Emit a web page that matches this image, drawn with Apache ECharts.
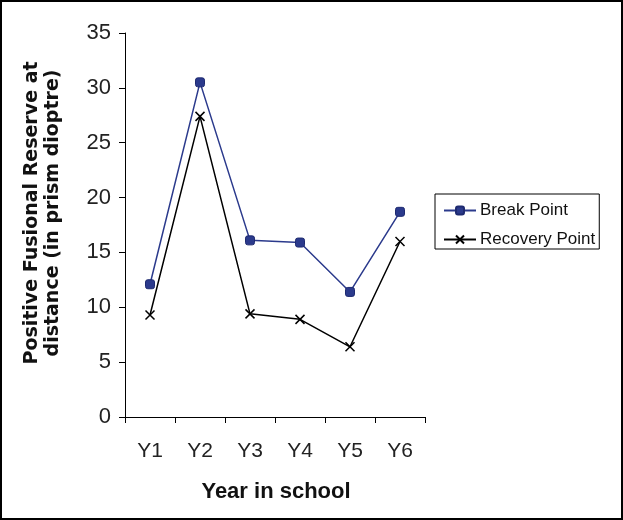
<!DOCTYPE html>
<html>
<head>
<meta charset="utf-8">
<script src="https://cdn.jsdelivr.net/npm/echarts@6/dist/echarts.min.js"></script>
<style>html,body{margin:0;padding:0;background:#fff}#c{width:623px;height:520px}</style>
</head>
<body>
<div id="c"></div>
<script>
const categories = ['Y1', 'Y2', 'Y3', 'Y4', 'Y5', 'Y6'];
const breakPoint = [12.1, 30.5, 16.1, 15.9, 11.4, 18.7];
const recoveryPoint = [9.3, 27.4, 9.4, 8.9, 6.4, 16.0];
const yTicks = [0, 5, 10, 15, 20, 25, 30, 35];
const seriesNames = ['Break Point', 'Recovery Point'];
const xTitle = 'Year in school';
const yTitle = 'Positive Fusional Reserve at\ndistance (in prism dioptre)';

const chart = echarts.init(document.getElementById('c'), null, {renderer: 'canvas'});
const labelFont = '"Liberation Sans", Arial, sans-serif';
chart.setOption({
  animation: false,
  backgroundColor: '#fff',
  grid: {left: 125, right: 198, top: 33, bottom: 103, containLabel: false},
  legend: {
    orient: 'vertical',
    left: 435, top: 194,
    padding: [8, 4, 1, 8],
    itemWidth: 32, itemHeight: 10, itemGap: 12,
    borderColor: '#000', borderWidth: 1,
    textStyle: {fontFamily: labelFont, fontSize: 17, color: '#111', padding: [0, 0, 0, -1]},
    data: seriesNames
  },
  xAxis: {
    type: 'category',
    data: categories,
    boundaryGap: true,
    axisLine: {lineStyle: {color: '#000', width: 1}},
    axisTick: {show: true, length: 6, alignWithLabel: false, lineStyle: {color: '#000'}},
    axisLabel: {fontFamily: labelFont, fontSize: 21, color: '#222', margin: 24},
    splitLine: {show: false}
  },
  yAxis: {
    type: 'value',
    min: yTicks[0], max: yTicks[yTicks.length - 1], interval: yTicks[1] - yTicks[0],
    axisLine: {show: true, lineStyle: {color: '#000', width: 1}},
    axisTick: {show: true, length: 6, lineStyle: {color: '#000'}},
    axisLabel: {fontFamily: labelFont, fontSize: 22, color: '#222', margin: 14},
    splitLine: {show: false}
  },
  graphic: [
    {type: 'rect', shape: {x: 1, y: 1, width: 621, height: 518}, style: {fill: 'none', stroke: '#000', lineWidth: 2}, silent: true},
    {type: 'text', x: 43, y: 213, rotation: Math.PI / 2,
     style: {text: yTitle, font: 'bold 19px "DejaVu Sans", sans-serif', fill: '#111', textAlign: 'center', textVerticalAlign: 'middle', lineHeight: 21}},
    {type: 'text', x: 276, y: 492,
     style: {text: xTitle, font: 'bold 22px "Liberation Sans", Arial, sans-serif', fill: '#111', textAlign: 'center', textVerticalAlign: 'middle'}}
  ],
  series: [
    {
      name: seriesNames[0], type: 'line', data: breakPoint,
      symbol: 'roundRect', symbolSize: 9,
      lineStyle: {color: '#2B3A8C', width: 1.5},
      itemStyle: {color: '#2B3A8C', borderColor: '#1E2A70', borderWidth: 1}
    },
    {
      name: seriesNames[1], type: 'line', data: recoveryPoint,
      symbol: 'path://M0,0L10,10M10,0L0,10', symbolSize: 9,
      lineStyle: {color: '#000', width: 1.5},
      itemStyle: {color: 'rgba(0,0,0,0)', borderColor: '#000', borderWidth: 1.5}
    }
  ]
});
</script>
</body>
</html>
